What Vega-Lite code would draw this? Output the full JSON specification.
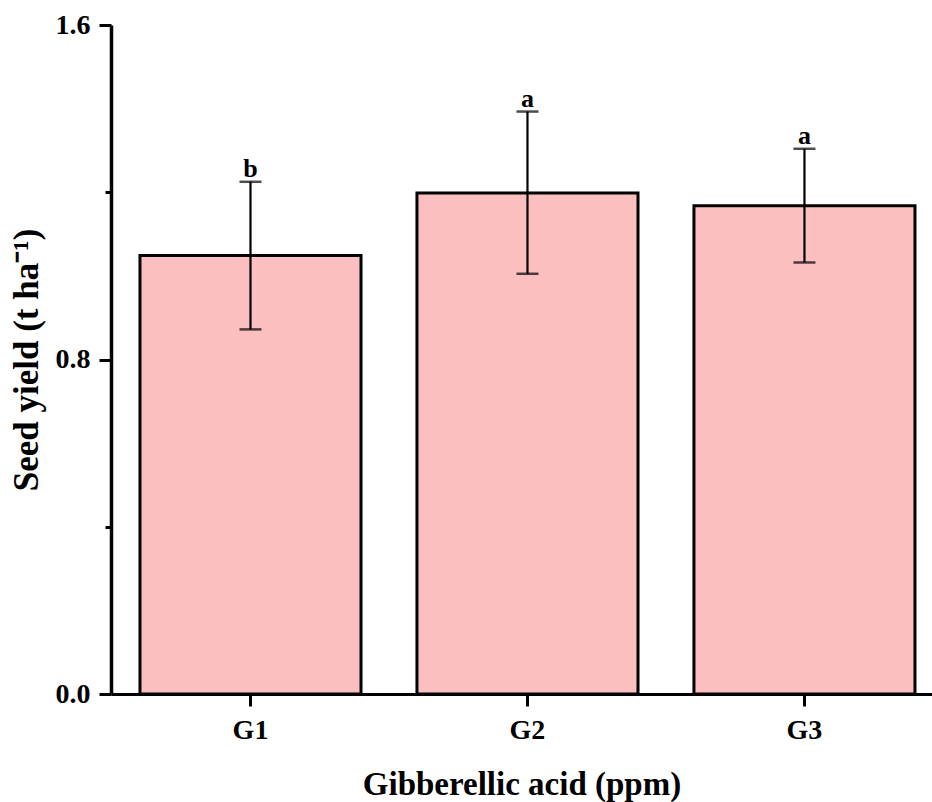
{
  "$schema": "https://vega.github.io/schema/vega-lite/v6.json",
  "autosize": {"type": "none"},
  "padding": {"left": 111, "top": 25, "right": 0, "bottom": 108},
  "width": 821,
  "height": 669,
  "background": "white",
  "config": {
    "view": {"stroke": null},
    "font": "Liberation Serif",
    "axis": {
      "labelFont": "Liberation Serif",
      "titleFont": "Liberation Serif",
      "labelFontWeight": "bold",
      "titleFontWeight": "bold",
      "labelColor": "black",
      "titleColor": "black",
      "domainColor": "black",
      "tickColor": "black",
      "grid": false
    }
  },
  "data": {
    "values": [
      {"group": "G1", "mean": 1.049, "lower": 0.872, "upper": 1.225, "letter": "b"},
      {"group": "G2", "mean": 1.198, "lower": 1.005, "upper": 1.393, "letter": "a"},
      {"group": "G3", "mean": 1.168, "lower": 1.032, "upper": 1.304, "letter": "a"}
    ]
  },
  "encoding": {
    "x": {
      "field": "group",
      "type": "nominal",
      "scale": {"paddingInner": 0.202, "paddingOuter": 0.083, "align": 0.63},
      "axis": {
        "title": "Gibberellic acid (ppm)",
        "labelAngle": 0,
        "labelFontSize": 28,
        "titleFontSize": 33,
        "domainWidth": 3,
        "tickWidth": 3,
        "tickSize": 12,
        "labelPadding": 10,
        "titlePadding": 24
      }
    }
  },
  "layer": [
    {
      "mark": {"type": "bar", "fill": "#FCBFBF", "stroke": "black", "strokeWidth": 3},
      "encoding": {
        "y": {
          "field": "mean",
          "type": "quantitative",
          "scale": {"domain": [0, 1.6], "nice": false},
          "axis": {
            "title": "Seed yield (t ha⁻¹)",
            "values": [0, 0.4, 0.8, 1.2, 1.6],
            "labelExpr": "datum.value == 0.4 || datum.value == 1.2 ? '' : format(datum.value, '.1f')",
            "labelFontSize": 28,
            "titleFontSize": 35,
            "domainWidth": 3.5,
            "tickWidth": 3,
            "tickSize": {"condition": {"test": "datum.value == 0.4 || datum.value == 1.2", "value": 6}, "value": 12},
            "labelPadding": 9,
            "titlePadding": 11
          }
        }
      }
    },
    {
      "mark": {"type": "rule", "color": "black", "strokeWidth": 2.2},
      "encoding": {
        "y": {"field": "lower", "type": "quantitative"},
        "y2": {"field": "upper"}
      }
    },
    {
      "mark": {"type": "tick", "color": "black", "size": 22, "thickness": 2.5},
      "encoding": {
        "y": {"field": "lower", "type": "quantitative"}
      }
    },
    {
      "mark": {"type": "tick", "color": "black", "size": 22, "thickness": 2.5},
      "encoding": {
        "y": {"field": "upper", "type": "quantitative"}
      }
    },
    {
      "mark": {"type": "text", "font": "Liberation Serif", "fontWeight": "bold", "fontSize": 26, "baseline": "alphabetic", "dy": -5, "color": "black"},
      "encoding": {
        "y": {"field": "upper", "type": "quantitative"},
        "text": {"field": "letter"}
      }
    }
  ]
}
